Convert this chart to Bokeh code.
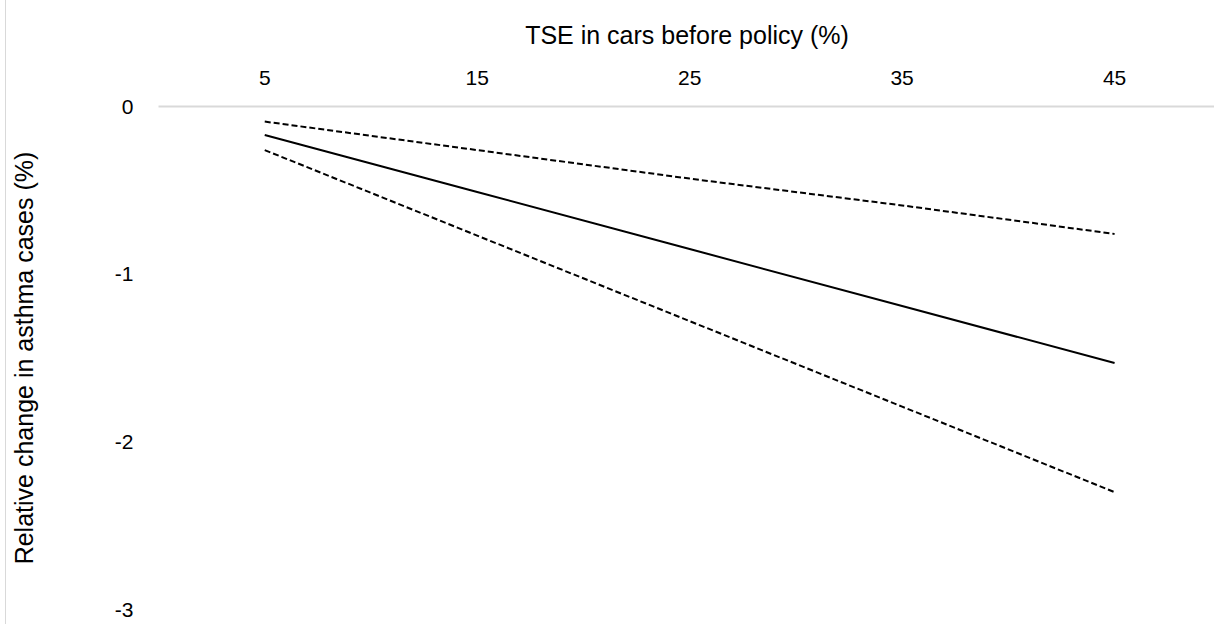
from bokeh.plotting import figure
from bokeh.models import Range1d, LinearAxis, FixedTicker
from bokeh.embed import file_html
from bokeh.resources import INLINE

tse = [5, 15, 25, 35, 45]
central = [-0.17, -0.51, -0.85, -1.19, -1.53]
upper = [-0.09, -0.26, -0.43, -0.59, -0.76]
lower = [-0.26, -0.77, -1.28, -1.79, -2.30]
x_ticks = [5, 15, 25, 35, 45]
y_ticks = [-3, -2, -1, 0]
y_tick_labels = ["-3", "-2", "-1", "0"]

FONT = "Liberation Sans"

p = figure(width=1209, height=624, output_backend="svg", toolbar_location=None,
           x_range=Range1d(0, 49.75), y_range=Range1d(-3, 0),
           x_axis_location=None, y_axis_location=None,
           min_border_left=149, min_border_top=106, min_border_right=0, min_border_bottom=15)
p.styles = {"margin-left": "5px", "border-left": "1px solid #d9d9d9"}
p.outline_line_color = None
p.xgrid.visible = False
p.ygrid.visible = False

xa = LinearAxis(ticker=FixedTicker(ticks=x_ticks), axis_label="TSE in cars before policy (%)")
xa.axis_line_color = "#d9d9d9"
xa.axis_line_width = 2
xa.major_tick_line_color = None
xa.minor_tick_line_color = None
xa.major_label_standoff = 16
xa.axis_label_standoff = 19
p.add_layout(xa, "above")

ya = LinearAxis(ticker=FixedTicker(ticks=y_ticks), axis_label="Relative change in asthma cases (%)")
ya.axis_line_color = None
ya.major_tick_line_color = None
ya.minor_tick_line_color = None
ya.major_label_standoff = 19
ya.axis_label_standoff = 74
ya.major_label_overrides = {t: s for t, s in zip(y_ticks, y_tick_labels)}
p.add_layout(ya, "left")

for ax in (xa, ya):
    ax.major_label_text_font = FONT
    ax.major_label_text_font_size = "21px"
    ax.major_label_text_color = "#000000"
    ax.axis_label_text_font = FONT
    ax.axis_label_text_font_size = "25px"
    ax.axis_label_text_font_style = "normal"
    ax.axis_label_text_color = "#000000"

p.line(tse, upper, line_color="black", line_width=2, line_dash="6 3")
p.line(tse, central, line_color="black", line_width=2)
p.line(tse, lower, line_color="black", line_width=2, line_dash="6 3")

open("out.html", "w").write(file_html(p, INLINE))
